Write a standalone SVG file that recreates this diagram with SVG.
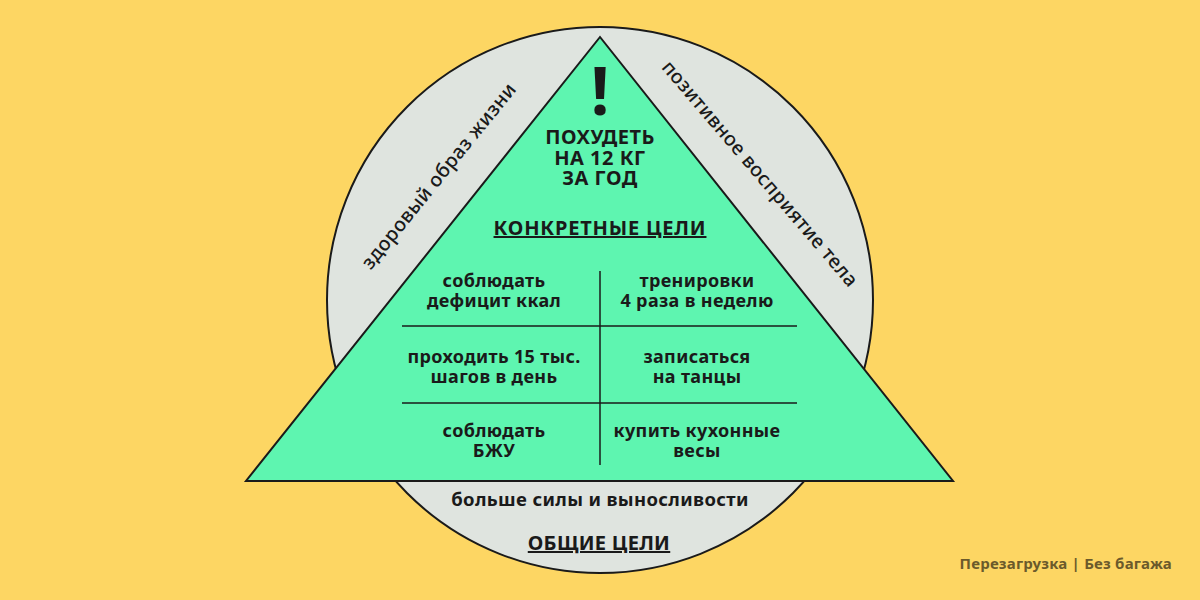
<svg xmlns="http://www.w3.org/2000/svg" width="1200" height="600" viewBox="0 0 1200 600">
<style>
.t{font-family:"Noto Sans","DejaVu Sans",sans-serif;font-weight:bold;fill:#1a1a1a;text-anchor:middle}
.c{font-size:18px;letter-spacing:0.35px}
.hd{font-size:20px;letter-spacing:0.5px}
.h{font-size:20px;text-decoration:underline;letter-spacing:0.3px}
.r{font-family:"Noto Sans","DejaVu Sans",sans-serif;font-weight:500;font-size:19.5px;fill:#1a1a1a;text-anchor:middle;letter-spacing:0.4px}
.ln{stroke:#1a1a1a;stroke-width:1.5}
</style>
<rect width="1200" height="600" fill="#FDD663"/>
<g id="circle">
<circle cx="600" cy="300" r="273" fill="#DFE4DF" stroke="#1a1a1a" stroke-width="2"/>
<text class="r" transform="translate(444,180) rotate(-51)">здоровый образ жизни</text>
<text class="r" transform="translate(755,178) rotate(49.5)">позитивное восприятие тела</text>
<text class="t c" x="600" y="506" style="font-size:18.5px">больше силы и выносливости</text>
<text class="t h" x="599" y="550">ОБЩИЕ ЦЕЛИ</text>
</g>
<g id="triangle">
<polygon points="600,37 246,481 953,481" fill="#5EF5B0" stroke="#1a1a1a" stroke-width="2" stroke-linejoin="miter"/>
<text class="t" x="600" y="115" font-size="66">!</text>
<text class="t hd" x="600" y="144">ПОХУДЕТЬ</text>
<text class="t hd" x="600" y="165">НА 12 КГ</text>
<text class="t hd" x="600" y="185">ЗА ГОД</text>
<text class="t h" x="600" y="235" style="letter-spacing:0.8px">КОНКРЕТНЫЕ ЦЕЛИ</text>
</g>
<g id="connectors">
<line class="ln" x1="600" y1="271" x2="600" y2="465"/>
<line class="ln" x1="402" y1="326" x2="797" y2="326"/>
<line class="ln" x1="402" y1="403" x2="797" y2="403"/>
</g>
<g id="goal1"><text class="t c" x="494" y="287">соблюдать</text><text class="t c" x="494" y="307">дефицит ккал</text></g>
<g id="goal2"><text class="t c" x="697" y="287">тренировки</text><text class="t c" x="697" y="307">4 раза в неделю</text></g>
<g id="goal3"><text class="t c" x="494" y="363">проходить 15 тыс.</text><text class="t c" x="494" y="383">шагов в день</text></g>
<g id="goal4"><text class="t c" x="697" y="363">записаться</text><text class="t c" x="697" y="383">на танцы</text></g>
<g id="goal5"><text class="t c" x="494" y="437">соблюдать</text><text class="t c" x="494" y="457">БЖУ</text></g>
<g id="goal6"><text class="t c" x="697" y="437">купить кухонные</text><text class="t c" x="697" y="457">весы</text></g>
<text x="1172" y="569" font-family="'Noto Sans','DejaVu Sans',sans-serif" font-weight="bold" font-size="15" fill="#6B5A2B" text-anchor="end" letter-spacing="0.2">Перезагрузка | Без багажа</text>
</svg>
